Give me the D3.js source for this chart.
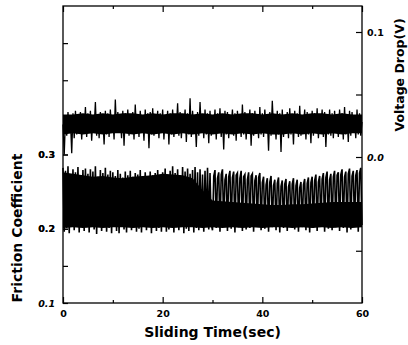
<!DOCTYPE html>
<html>
<head>
<meta charset="utf-8">
<script src="https://cdn.jsdelivr.net/npm/d3@7"></script>
<style>
  html, body { margin: 0; padding: 0; background: #fff; }
  svg { display: block; }
</style>
</head>
<body>
<script>

// Sampling interval of both traces (sec):
const SAMPLE_STEP = 0.25;
// Sampling interval of the band envelopes (sec):
const BAND_STEP = 2;

// Voltage drop trace (mV), one value per sample:
const voltageMilli = [
  26, 2, 31, 17, 36, 22, 29, 3, 35, 15, 37, 18, 30, 24, 36, 14, 32, 21, 40, 16,
  35, 22, 37, 13, 31, 23, 44, 17, 34, 15, 36, 25, 30, 10, 37, 18, 35, 16, 38, 22,
  31, 14, 46, 21, 36, 23, 32, 15, 37, 9, 35, 22, 38, 17, 31, 24, 36, 14, 42, 21,
  32, 16, 37, 23, 30, 13, 38, 22, 35, 7, 36, 18, 39, 17, 31, 23, 37, 15, 35, 22,
  38, 14, 32, 24, 37, 10, 35, 18, 38, 16, 31, 23, 43, 17, 36, 15, 32, 24, 38, 12,
  35, 18, 47, 16, 37, 23, 31, 8, 36, 17, 44, 22, 32, 15, 38, 18, 35, 11, 37, 17,
  31, 23, 38, 14, 35, 22, 39, 16, 32, 6, 37, 18, 36, 15, 31, 24, 38, 17, 35, 13,
  37, 22, 32, 16, 42, 18, 36, 14, 31, 23, 38, 9, 35, 17, 37, 22, 32, 15, 40, 18,
  35, 16, 38, 23, 31, 5, 36, 17, 45, 22, 32, 14, 37, 18, 35, 4, 38, 16, 31, 23,
  36, 15, 39, 18, 32, 10, 37, 22, 35, 16, 41, 17, 31, 23, 38, 14, 36, 18, 32, 11,
  37, 17, 35, 22, 39, 15, 31, 23, 38, 16, 36, 8, 32, 18, 38, 17, 35, 15, 37, 22,
  31, 16, 38, 23, 35, 14, 40, 18, 32, 12, 37, 17, 36, 22, 31, 15, 38, 18, 35, 17,
  28
];

// Friction coefficient trace (x 1/1000):
const frictionMilli = [
  282, 196, 278, 201, 284, 194, 271, 208, 280, 198, 276, 203, 283, 195, 268, 210, 279, 197, 281, 202,
  274, 195, 280, 206, 277, 199, 284, 193, 270, 204, 279, 197, 275, 209, 282, 196, 273, 201, 278, 194,
  276, 203, 271, 197, 279, 194, 274, 207, 269, 199, 277, 195, 272, 205, 278, 198, 270, 202, 275, 196,
  273, 200, 279, 195, 271, 206, 276, 198, 268, 203, 277, 194, 272, 208, 275, 197, 279, 201, 270, 196,
  276, 204, 281, 196, 273, 199, 278, 207, 284, 195, 275, 202, 280, 198, 272, 205, 283, 194, 277, 200,
  281, 197, 274, 209, 279, 195, 283, 201, 276, 198, 280, 205, 273, 196, 278, 203, 282, 199, 275, 206,
  198, 271, 279, 201, 268, 276, 196, 273, 280, 203, 266, 274, 197, 270, 278, 200, 269, 277, 195, 272,
  275, 202, 268, 278, 197, 270, 273, 199, 266, 276, 201, 271, 274, 196, 265, 272, 203, 269, 275, 198,
  262, 270, 200, 259, 268, 196, 263, 271, 202, 258, 266, 198, 261, 269, 195, 257, 265, 201, 260, 267,
  197, 256, 264, 203, 260, 268, 199, 258, 266, 196, 255, 263, 202, 259, 267, 198, 261, 269, 195, 262,
  270, 201, 265, 273, 197, 263, 271, 203, 267, 275, 196, 269, 277, 200, 266, 274, 198, 270, 278, 202,
  272, 276, 197, 273, 280, 201, 270, 277, 195, 274, 281, 199, 271, 278, 203, 272, 279, 196, 275, 282,
  205
];

// Solid core of each band, where the scan is fully black (every 2 sec):
const voltageCoreLow = [
  18, 19, 18, 19, 18, 19, 19, 18, 19, 18, 19, 18, 19, 18, 19, 18,
  19, 18, 19, 18, 19, 18, 18, 19, 18, 19, 18, 19, 18, 19, 19
];
const voltageCoreHigh = [
  34, 34, 35, 34, 35, 34, 35, 35, 34, 35, 34, 35, 35, 34, 35, 34,
  35, 34, 35, 35, 34, 35, 34, 35, 34, 35, 35, 34, 35, 34, 34
];
const frictionCoreLow = [
  201, 202, 201, 202, 201, 202, 202, 201, 202, 201, 202, 201, 202, 202, 201, 202,
  201, 202, 201, 202, 201, 202, 202, 201, 202, 201, 202, 201, 202, 201, 202
];
const frictionCoreHigh = [
  276, 274, 272, 270, 271, 269, 268, 270, 271, 272, 274, 273, 272, 268, 252, 238,
  237, 236, 235, 234, 233, 232, 232, 233, 233, 234, 235, 236, 236, 236, 236
];

// Tick values:
const timeTicks = [0, 10, 20, 30, 40, 50, 60];
const timeLabels = [0, 20, 40, 60];
const frictionTicks = [0.15, 0.2, 0.25, 0.3, 0.35, 0.4, 0.45];
const frictionLabels = [0.1, 0.2, 0.3];
const voltageTicks = [-0.075, 0, 0.05, 0.1];
const voltageLabels = [0, 0.1];


// Dimensions of the plot box:
const WIDTH = 408, HEIGHT = 345;
const LEFT = 63, RIGHT = 362, TOP = 6, BOTTOM = 303;
const FONT = "'DejaVu Sans', sans-serif";

let svg = d3.select("body").append("svg")
    .attr("width", WIDTH)
    .attr("height", HEIGHT);

svg.append("rect")
    .attr("width", WIDTH)
    .attr("height", HEIGHT)
    .attr("fill", "#fff");

let x = d3.scaleLinear().domain([0, 60]).range([LEFT, RIGHT]);
let yFriction = d3.scaleLinear().domain([0.1, 0.5]).range([BOTTOM, TOP]);
let yVoltage = d3.scaleLinear().domain([-0.1168, 0.1208]).range([BOTTOM, TOP]);


// Solid cores of the two bands:
let coreArea = (low, scale) => d3.area()
    .x((d, i) => x(i * BAND_STEP))
    .y0((d, i) => scale(low[i] / 1000))
    .y1(d => scale(d / 1000));

svg.append("path")
    .attr("d", coreArea(frictionCoreLow, yFriction)(frictionCoreHigh))
    .attr("fill", "#000");

svg.append("path")
    .attr("d", coreArea(voltageCoreLow, yVoltage)(voltageCoreHigh))
    .attr("fill", "#000");


// Traces on top of the cores:
let voltageLine = d3.line()
    .x((d, i) => x(i * SAMPLE_STEP))
    .y(d => yVoltage(d / 1000));

let frictionLine = d3.line()
    .x((d, i) => x(i * SAMPLE_STEP))
    .y(d => yFriction(d / 1000));

svg.append("path")
    .attr("d", frictionLine(frictionMilli))
    .attr("fill", "none")
    .attr("stroke", "#000")
    .attr("stroke-width", 1.6);

svg.append("path")
    .attr("d", voltageLine(voltageMilli))
    .attr("fill", "none")
    .attr("stroke", "#000")
    .attr("stroke-width", 1.3);


// Frame:
svg.append("rect")
    .attr("x", LEFT)
    .attr("y", TOP)
    .attr("width", RIGHT - LEFT)
    .attr("height", BOTTOM - TOP)
    .attr("fill", "none")
    .attr("stroke", "#000")
    .attr("stroke-width", 1.3);


// Inward ticks on all four sides:
let tickLen = (major) => major ? 6 : 3;

let axisBottom = d3.axisBottom(x)
    .tickValues(timeTicks)
    .tickSize(-3)
    .tickFormat(d => timeLabels.includes(d) ? d : "");
let gBottom = svg.append("g")
    .attr("transform", "translate(0," + BOTTOM + ")")
    .call(axisBottom);
gBottom.selectAll("line").attr("y2", d => -tickLen(d % 20 === 0));

let axisTop = d3.axisTop(x)
    .tickValues(timeTicks)
    .tickSize(-3)
    .tickFormat("");
let gTop = svg.append("g")
    .attr("transform", "translate(0," + TOP + ")")
    .call(axisTop);
gTop.selectAll("line").attr("y2", d => tickLen(d % 20 === 0));

let axisLeft = d3.axisLeft(yFriction)
    .tickValues(frictionLabels.concat(frictionTicks))
    .tickSize(-5)
    .tickFormat(d => frictionLabels.includes(d) ? d3.format(".1f")(d) : "");
let gLeft = svg.append("g")
    .attr("transform", "translate(" + LEFT + ",0)")
    .call(axisLeft);

let axisRight = d3.axisRight(yVoltage)
    .tickValues(voltageTicks)
    .tickSize(-6)
    .tickFormat(d => voltageLabels.includes(d) ? d3.format(".1f")(d) : "");
let gRight = svg.append("g")
    .attr("transform", "translate(" + RIGHT + ",0)")
    .call(axisRight);

[gBottom, gTop, gLeft, gRight].forEach(g =>
{
  g.select(".domain").remove();
  g.selectAll("line").attr("stroke", "#000").attr("stroke-width", 1.2);
  g.selectAll("text")
      .attr("fill", "#000")
      .attr("font-family", FONT)
      .attr("font-weight", "bold")
      .attr("font-size", 9.5);
});

gBottom.selectAll("text").attr("y", 7);
gLeft.selectAll("text").attr("x", -8);
gRight.selectAll("text").attr("x", 5)
    .attr("font-style", d => d === 0 ? "italic" : "normal");
gLeft.selectAll("text")
    .attr("font-style", d => d === 0.1 ? "italic" : "normal");


// Axis titles:
svg.append("text")
    .attr("transform", "translate(22,228) rotate(-90)")
    .attr("text-anchor", "middle")
    .attr("font-family", FONT)
    .attr("font-weight", "bold")
    .attr("font-size", 14)
    .text("Friction Coefficient");

svg.append("text")
    .attr("x", (LEFT + RIGHT) / 2)
    .attr("y", 337)
    .attr("text-anchor", "middle")
    .attr("font-family", FONT)
    .attr("font-weight", "bold")
    .attr("font-size", 14)
    .text("Sliding Time(sec)");

svg.append("text")
    .attr("transform", "translate(404,75) rotate(-90)")
    .attr("text-anchor", "middle")
    .attr("font-family", FONT)
    .attr("font-weight", "bold")
    .attr("font-size", 12.5)
    .text("Voltage Drop(V)");

</script>
</body>
</html>
